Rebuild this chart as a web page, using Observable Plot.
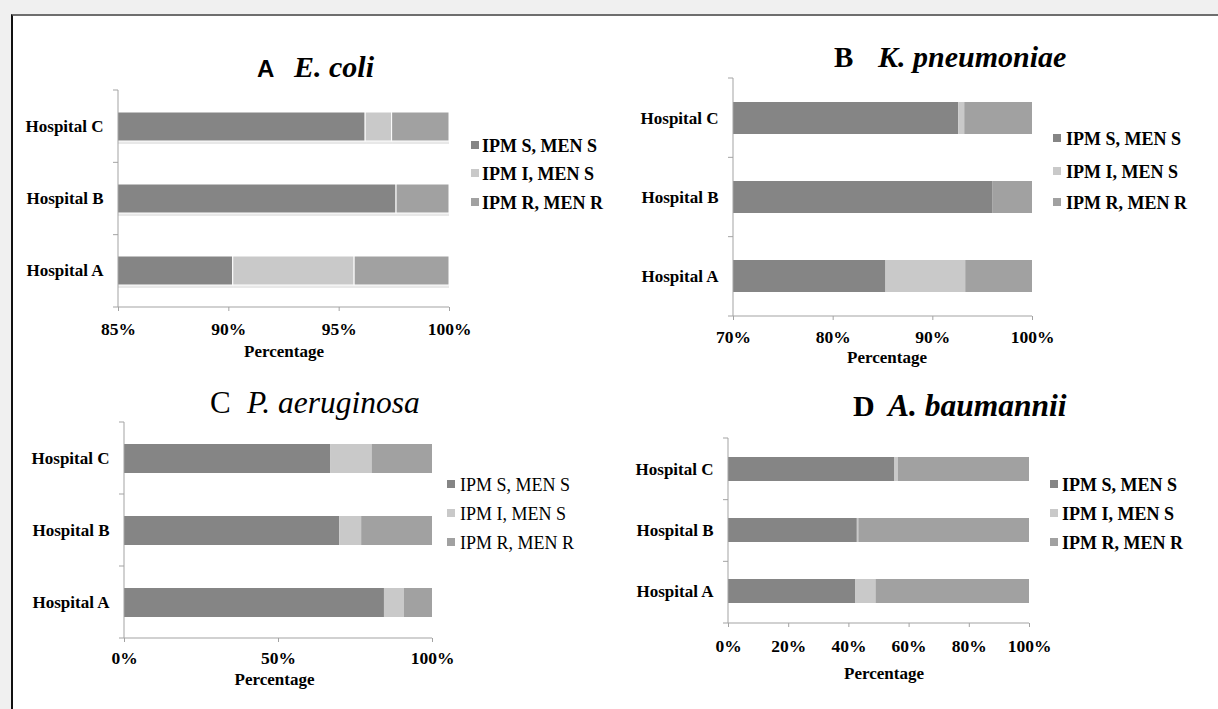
<!DOCTYPE html>
<html>
<head>
<meta charset="utf-8">
<script src="https://cdn.jsdelivr.net/npm/d3@7"></script>
<script src="https://cdn.jsdelivr.net/npm/@observablehq/plot@0.6"></script>
<style>
  html, body { margin: 0; padding: 0; background: #f0f0f0; }
  #page { position: relative; width: 1218px; height: 709px; overflow: hidden; background: #f0f0f0; }
  #frame { position: absolute; left: 11px; top: 14px; width: 1300px; height: 800px; background: #fff;
           border-top: 2px solid #6e6e6e; border-left: 2px solid #111; }
</style>
</head>
<body>
<div id="page"><div id="frame"></div></div>
<script>
// ---------- data ----------
const hospitals = ["Hospital C", "Hospital B", "Hospital A"];
const categories = ["IPM S, MEN S", "IPM I, MEN S", "IPM R, MEN R"];
const colors = ["#858585", "#c9c9c9", "#a1a1a1"];

// values per hospital (C, B, A), each [S, I, R] in percent
const ecoliValues = [[96.2, 1.2, 2.6], [97.6, 0.0, 2.4], [90.2, 5.5, 4.3]];
const kpneuValues = [[92.6, 0.6, 6.8], [96.0, 0.0, 4.0], [85.3, 8.0, 6.7]];
const paeruValues = [[66.9, 13.5, 19.6], [69.9, 7.1, 23.0], [84.4, 6.5, 9.1]];
const abaumValues = [[55.3, 1.1, 43.6], [42.8, 0.5, 56.7], [42.2, 6.8, 51.0]];

const ecoliTicks = [85, 90, 95, 100];
const kpneuTicks = [70, 80, 90, 100];
const paeruTicks = [0, 50, 100];
const abaumTicks = [0, 20, 40, 60, 80, 100];

const ecoliDomain = [85, 100];
const kpneuDomain = [70, 100];
const paeruDomain = [0, 100];
const abaumDomain = [0, 100];

const panelLetters = ["A", "B", "C", "D"];
const speciesNames = ["E. coli", "K. pneumoniae", "P. aeruginosa", "A. baumannii"];
const axisTitle = "Percentage";

// ---------- layout ----------
const axisColor = "#a3a3a3";
const serif = '"Liberation Serif", "Times New Roman", serif';
const sans = '"Liberation Sans", Arial, sans-serif';

const panels = [
  {values: ecoliValues, ticks: ecoliTicks, domain: ecoliDomain,
   left: 0, top: 80, x0: 118, x1: 449, y0: 90, y1: 307, tickPadding: 11, labelDy: 44.5, labelDx: 0,
   stroke: "white", shadow: true,
   title: {letterX: 257, speciesX: 294, baseline: 77,
           letter: {family: sans, size: 24, weight: "bold", style: "normal"},
           species: {family: serif, size: 30, weight: "bold", style: "italic"}},
   legend: {swatchX: 471, textX: 482, rows: [145, 173, 202], weight: "bold"}},
  {values: kpneuValues, ticks: kpneuTicks, domain: kpneuDomain,
   left: 610, top: 60, x0: 733, x1: 1032, y0: 78, y1: 316, tickPadding: 10, labelDy: 41.5, labelDx: 4,
   stroke: "none", shadow: false,
   title: {letterX: 834, speciesX: 878, baseline: 67,
           letter: {family: serif, size: 29, weight: "bold", style: "normal"},
           species: {family: serif, size: 30, weight: "bold", style: "italic"}},
   legend: {swatchX: 1053, textX: 1066, rows: [138, 171, 202], weight: "bold"}},
  {values: paeruValues, ticks: paeruTicks, domain: paeruDomain,
   left: 0, top: 410, x0: 124, x1: 432, y0: 422, y1: 638, tickPadding: 9, labelDy: 41.5, labelDx: -4,
   stroke: "none", shadow: false,
   title: {letterX: 210, speciesX: 247, baseline: 413,
           letter: {family: serif, size: 31, weight: "normal", style: "normal"},
           species: {family: serif, size: 31.5, weight: "normal", style: "italic"}},
   legend: {swatchX: 447, textX: 460, rows: [484, 513, 542], weight: "normal"}},
  {values: abaumValues, ticks: abaumTicks, domain: abaumDomain,
   left: 610, top: 420, x0: 728, x1: 1029, y0: 438, y1: 623, tickPadding: 12, labelDy: 50.5, labelDx: 5,
   stroke: "none", shadow: false,
   title: {letterX: 853, speciesX: 888, baseline: 416,
           letter: {family: serif, size: 30, weight: "bold", style: "normal"},
           species: {family: serif, size: 31.5, weight: "bold", style: "italic"}},
   legend: {swatchX: 1050, textX: 1062, rows: [484, 513, 542], weight: "bold"}}
];

function axisFrame(n) {
  return (index, scales, values, dims) => {
    const {width, height, marginTop, marginRight, marginBottom, marginLeft} = dims;
    const x0 = marginLeft, x1 = width - marginRight, y0 = marginTop, y1 = height - marginBottom;
    const g = d3.create("svg:g").attr("stroke", axisColor).attr("stroke-width", 1).attr("fill", "none");
    g.append("line").attr("x1", x0).attr("x2", x0).attr("y1", y0).attr("y2", y1);
    g.append("line").attr("x1", x0).attr("x2", x1).attr("y1", y1).attr("y2", y1);
    d3.range(n + 1).forEach(k => {
      const y = y0 + k * (y1 - y0) / n;
      g.append("line").attr("x1", x0 - 5).attr("x2", x0).attr("y1", y).attr("y2", y);
    });
    return g.node();
  };
}

const page = document.getElementById("page");

panels.forEach(p => {
  const rows = [];
  hospitals.forEach((h, i) => categories.forEach((c, j) => rows.push({hospital: h, category: c, value: p.values[i][j]})));
  const marginLeft = p.x0 - p.left, marginTop = p.y0 - p.top, marginRight = 12, marginBottom = 70;
  const width = p.x1 - p.left + marginRight;
  const height = p.y1 - p.top + marginBottom;
  const fmt = d => d + "%";
  const marks = [];
  if (p.shadow) {
    marks.push(Plot.barX(rows, Plot.stackX({x: "value", y: "hospital", fill: "#000", fillOpacity: 0.09, dy: 3, dx: 1, clip: true})));
  }
  marks.push(
    Plot.barX(rows, Plot.stackX({x: "value", y: "hospital", fill: "category", stroke: p.stroke, strokeWidth: 1, clip: true})),
    axisFrame(hospitals.length),
    Plot.axisX({ticks: p.ticks, tickFormat: fmt, tickSize: 4, tickPadding: p.tickPadding, stroke: axisColor, fill: "black", fontSize: 17.5, label: null}),
    Plot.axisY({tickSize: 0, tickPadding: 15, fill: "black", fontSize: 17, label: null}),
    Plot.text([axisTitle], {text: d => d, frameAnchor: "bottom", dy: p.labelDy, dx: p.labelDx, lineAnchor: "middle", fill: "black", fontSize: 17})
  );
  const chart = Plot.plot({
    width, height, marginLeft, marginTop, marginRight, marginBottom,
    style: {position: "absolute", left: p.left + "px", top: p.top + "px", background: "transparent",
            fontFamily: serif, fontWeight: "bold", fontSize: "17px", color: "black", overflow: "visible"},
    x: {domain: p.domain, label: null},
    y: {domain: hospitals, paddingInner: 0.6, paddingOuter: 0.3, label: null},
    color: {domain: categories, range: colors},
    marks
  });
  page.appendChild(chart);
});

// ---------- titles and legends overlay ----------
const overlay = d3.create("svg")
  .attr("width", 1218).attr("height", 709)
  .style("position", "absolute").style("left", "0px").style("top", "0px").style("pointer-events", "none");

function styled(sel, f) {
  return sel.attr("font-family", f.family).attr("font-size", f.size).attr("font-weight", f.weight).attr("font-style", f.style);
}

panels.forEach((p, i) => {
  styled(overlay.append("text").attr("x", p.title.letterX).attr("y", p.title.baseline).attr("fill", "black"), p.title.letter)
    .text(panelLetters[i]);
  styled(overlay.append("text").attr("x", p.title.speciesX).attr("y", p.title.baseline).attr("fill", "black"), p.title.species)
    .text(speciesNames[i]);
  categories.forEach((c, j) => {
    const cy = p.legend.rows[j];
    overlay.append("rect").attr("x", p.legend.swatchX).attr("y", cy - 4).attr("width", 8).attr("height", 8).attr("fill", colors[j]);
    overlay.append("text").attr("x", p.legend.textX).attr("y", cy + 6.5)
      .attr("font-family", serif).attr("font-size", 18).attr("font-weight", p.legend.weight)
      .attr("fill", "black").text(c);
  });
});
page.appendChild(overlay.node());
</script>
</body>
</html>
